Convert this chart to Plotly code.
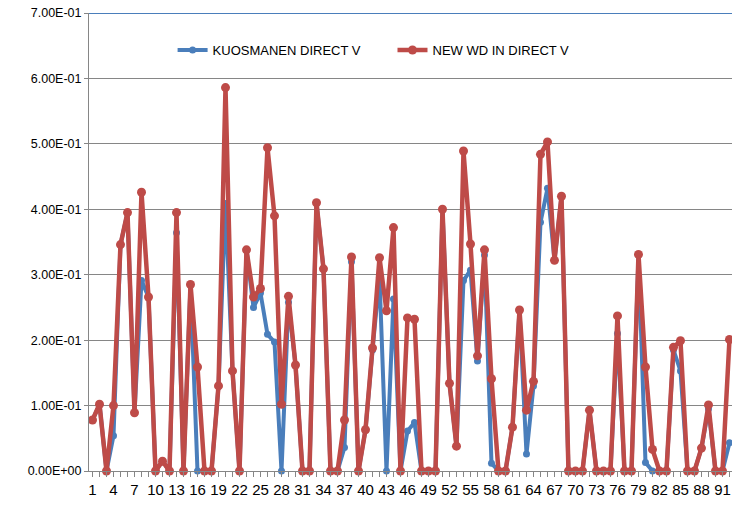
import plotly.graph_objects as go

categories = list(range(1, 93))

kuosmanen = [0.078, 0.102, 0, 0.054, 0.346, 0.395, 0.089, 0.291, 0.266, 0,
             0.015, 0, 0.364, 0, 0.285, 0, 0, 0, 0.130, 0.409,
             0.153, 0, 0.338, 0.250, 0.272, 0.209, 0.197, 0, 0.258, 0.162,
             0, 0, 0.410, 0.309, 0, 0, 0.036, 0.320, 0, 0.063,
             0.185, 0.296, 0, 0.263, 0, 0.061, 0.074, 0, 0, 0,
             0.400, 0.134, 0.038, 0.291, 0.307, 0.168, 0.330, 0.012, 0, 0,
             0.067, 0.246, 0.026, 0.130, 0.380, 0.432, 0.322, 0.420, 0, 0,
             0, 0.093, 0, 0, 0, 0.210, 0, 0, 0.330, 0.013,
             0, 0, 0, 0.185, 0.153, 0, 0, 0.035, 0.095, 0,
             0, 0.043]

new_wd = [0.078, 0.102, 0, 0.100, 0.346, 0.395, 0.089, 0.426, 0.266, 0,
          0.015, 0, 0.395, 0, 0.285, 0.159, 0, 0, 0.130, 0.586,
          0.153, 0, 0.338, 0.266, 0.279, 0.494, 0.390, 0.102, 0.267, 0.162,
          0, 0, 0.410, 0.309, 0, 0, 0.078, 0.327, 0, 0.063,
          0.188, 0.326, 0.245, 0.372, 0, 0.234, 0.232, 0, 0, 0,
          0.400, 0.134, 0.038, 0.489, 0.347, 0.176, 0.338, 0.141, 0, 0,
          0.067, 0.246, 0.093, 0.137, 0.484, 0.503, 0.322, 0.420, 0, 0,
          0, 0.093, 0, 0, 0, 0.237, 0, 0, 0.331, 0.159,
          0.033, 0, 0, 0.189, 0.199, 0, 0, 0.035, 0.101, 0,
          0, 0.201]

x_tickvals = list(range(1, 93, 3))
x_ticktext = [str(v) for v in x_tickvals]
y_tickvals = [0, 0.1, 0.2, 0.3, 0.4, 0.5, 0.6, 0.7]
y_ticktext = ["0.00E+00", "1.00E-01", "2.00E-01", "3.00E-01",
              "4.00E-01", "5.00E-01", "6.00E-01", "7.00E-01"]

BLUE = "#4A7EBB"
RED = "#BE4B48"

fig = go.Figure()
fig.add_trace(go.Scatter(
    x=categories, y=kuosmanen, name="KUOSMANEN DIRECT V",
    mode="lines+markers", line=dict(color=BLUE, width=4),
    marker=dict(color=BLUE, size=7), legend="legend", showlegend=True,
    cliponaxis=False))
fig.add_trace(go.Scatter(
    x=categories, y=new_wd, name="NEW WD IN DIRECT V",
    mode="lines+markers", line=dict(color=RED, width=4.5),
    marker=dict(color=RED, size=9), legend="legend2", showlegend=True,
    cliponaxis=False))

fig.add_shape(type="line", xref="paper", yref="y", x0=0, x1=1, y0=0.7, y1=0.7,
              line=dict(color=BLUE, width=2), layer="below")

fig.update_layout(
    width=732, height=505,
    margin=dict(l=89, r=0, t=13, b=34),
    paper_bgcolor="white", plot_bgcolor="white",
    showlegend=True,
    font=dict(family="Liberation Sans", color="#000000", size=14),
    legend=dict(x=0.13, y=0.919, xanchor="left", yanchor="middle",
                bgcolor="rgba(0,0,0,0)", font=dict(size=13)),
    legend2=dict(x=0.472, y=0.919, xanchor="left", yanchor="middle",
                 bgcolor="rgba(0,0,0,0)", font=dict(size=13)),
    xaxis=dict(range=[0.5, 92.36], tickvals=x_tickvals, ticktext=x_ticktext,
               automargin=False,
               showgrid=False, zeroline=False, showline=True,
               linecolor="#868686", linewidth=1,
               ticks="outside", ticklen=5, tickcolor="#868686",
               tickfont=dict(size=15),
               minor=dict(dtick=1, tick0=0, ticks="outside", ticklen=5,
                          tickcolor="#868686", showgrid=False)),
    yaxis=dict(range=[0, 0.7], tickvals=y_tickvals, ticktext=y_ticktext,
               automargin=False,
               showgrid=True, gridcolor="#868686", gridwidth=1,
               zeroline=False, showline=True, linecolor="#868686", linewidth=1,
               ticks="outside", ticklen=4, tickcolor="#868686",
               tickfont=dict(size=12.5)),
)

fig.write_html("out.html",
               config={"displayModeBar": False},
               post_script="document.body.style.margin='0';"
                           "document.body.style.overflow='hidden';")
